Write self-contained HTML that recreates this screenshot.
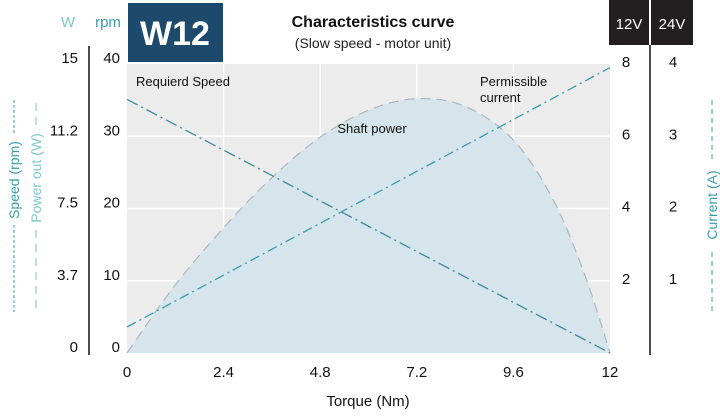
<!DOCTYPE html>
<html><head><meta charset="utf-8"><style>
body{margin:0;background:#fff;width:720px;height:411px;overflow:hidden;font-family:"Liberation Sans",sans-serif}
svg text{font-family:"Liberation Sans",sans-serif}
</style></head><body>
<svg id="c" width="720" height="411" viewBox="0 0 720 411">
<rect x="127" y="64" width="483" height="289" fill="#ececec"/>
<g id="grid"></g>
<path id="powerFill" fill="#d5e5eb"/>
<path id="powerLine" fill="none" stroke="#a9b9be" stroke-width="1.2" stroke-dasharray="10,6"/>
<line id="speedLine" stroke="#3a8a9c" stroke-width="1.3" stroke-dasharray="12,4,2,4"/>
<line id="currentLine" stroke="#3a9cae" stroke-width="1.3" stroke-dasharray="10,4,2,4"/>
<rect x="128" y="3" width="95" height="59" fill="#1d4a6c"/>
<text x="175" y="45" text-anchor="middle" font-size="34" font-weight="bold" fill="#fff">W12</text>
<text x="373" y="27" text-anchor="middle" font-size="16" font-weight="bold" fill="#111">Characteristics curve</text>
<text x="373" y="48" text-anchor="middle" font-size="14" fill="#222">(Slow speed - motor unit)</text>
<text x="68" y="27" text-anchor="middle" font-size="15" fill="#7fc6cf">W</text>
<text x="108" y="27" text-anchor="middle" font-size="15" fill="#3a9cae">rpm</text>
<rect x="609" y="0" width="40" height="45" fill="#231f20"/>
<rect x="651" y="0" width="42" height="45" fill="#231f20"/>
<text x="629" y="29" text-anchor="middle" font-size="15" fill="#fff">12V</text>
<text x="672" y="29" text-anchor="middle" font-size="15" fill="#fff">24V</text>
<line x1="89" y1="46" x2="89" y2="355" stroke="#111" stroke-width="1.5"/>
<line x1="650" y1="45" x2="650" y2="355" stroke="#111" stroke-width="1.5"/>
<g id="ticks"></g>
<text x="136" y="86" font-size="13" fill="#111">Requierd Speed</text>
<text x="480" y="86" font-size="13" fill="#111">Permissible</text>
<text x="480" y="102" font-size="13" fill="#111">current</text>
<text x="372" y="133" text-anchor="middle" font-size="13" fill="#111">Shaft power</text>
<text x="368" y="406" text-anchor="middle" font-size="15" fill="#111">Torque (Nm)</text>
<g transform="translate(19,180) rotate(-90)"><text text-anchor="middle" font-size="14" fill="#3a9cae">Speed (rpm)</text></g>
<line x1="14" y1="100" x2="14" y2="135" stroke="#3a9cae" stroke-dasharray="3,2"/>
<line x1="14" y1="225" x2="14" y2="312" stroke="#3a9cae" stroke-dasharray="3,2"/>
<g transform="translate(41,178) rotate(-90)"><text text-anchor="middle" font-size="14" fill="#7fc6cf">Power out (W)</text></g>
<line x1="36" y1="103" x2="36" y2="126" stroke="#7fc6cf" stroke-dasharray="8,6"/>
<line x1="36" y1="230" x2="36" y2="312" stroke="#7fc6cf" stroke-dasharray="8,6"/>
<g transform="translate(717,205) rotate(-90)"><text text-anchor="middle" font-size="14" fill="#3a9cae">Current (A)</text></g>
<line x1="712" y1="100" x2="712" y2="160" stroke="#3a9cae" stroke-dasharray="5,4"/>
<line x1="712" y1="252" x2="712" y2="312" stroke="#3a9cae" stroke-dasharray="5,4"/>
</svg>
<script>
const torqueTicks=[0,2.4,4.8,7.2,9.6,12];
const rpmTicks=[0,10,20,30,40];
const wattTickLabels=["0","3.7","7.5","11.2","15"];
const amp12Ticks=[2,4,6,8];
const amp24Labels=["1","2","3","4"];
const powerTorque=[0,1.15,2.4,3.6,4.8,6.0,7.2,8.4,9.6,10.6,11.4,12];
const powerWatts=[0,3.4,6.5,9.1,11.2,12.6,13.2,12.8,11.05,7.9,3.9,0];
const speedTorque=[0,12];
const speedRpm=[35.1,0];
const currentTorque=[0,12];
const current12V=[0.72,7.9];

const X0=127,X1=610,Y0=353,Y1=64;
const sx=t=>X0+(t-0)/(12-0)*(X1-X0);
const sRpm=r=>Y0-r/40*(Y0-Y1);
const sW=w=>Y0-w/15*(Y0-Y1);
const sA=a=>Y0-a/8*(Y0-Y1);
const NS="http://www.w3.org/2000/svg";
function mk(tag,attrs,parent){const e=document.createElementNS(NS,tag);for(const k in attrs)e.setAttribute(k,attrs[k]);parent.appendChild(e);return e;}
const grid=document.getElementById('grid'),ticks=document.getElementById('ticks');
torqueTicks.forEach((t,i)=>{
  if(i>0&&i<torqueTicks.length-1){const l=mk('line',{x1:sx(t),x2:sx(t),y1:Y1,y2:Y0,stroke:'#fff','stroke-width':1.5},grid);
  
  }
  const tx=mk('text',{x:sx(t),y:377,'text-anchor':'middle','font-size':15,fill:'#111'},ticks);tx.textContent=t;
  
  
});
rpmTicks.forEach((r,i)=>{
  if(i>0&&i<rpmTicks.length-1){const l=mk('line',{x1:X0,x2:X1,y1:sRpm(r),y2:sRpm(r),stroke:'#fff','stroke-width':1.5},grid);
  
  }
  const y=sRpm(r)-1;
  const a=mk('text',{x:120,y:y,'text-anchor':'end','font-size':15,fill:'#111'},ticks);a.textContent=r;
  
  
  const b=mk('text',{x:78,y:y,'text-anchor':'end','font-size':15,fill:'#111'},ticks);b.textContent=wattTickLabels[i];
  
  
});
amp12Ticks.forEach((a,i)=>{
  const y=sA(a)+3;
  const t1=mk('text',{x:626,y:y,'text-anchor':'middle','font-size':15,fill:'#111'},ticks);t1.textContent=a;
  
  
  const t2=mk('text',{x:673,y:y,'text-anchor':'middle','font-size':15,fill:'#111'},ticks);t2.textContent=amp24Labels[i];
  
  
});
// smooth path through power points (Catmull-Rom)
const pts=powerTorque.map((t,i)=>[sx(t),sW(powerWatts[i])]);
let d='M'+pts[0][0]+','+pts[0][1];
for(let i=0;i<pts.length-1;i++){
  const p0=pts[Math.max(i-1,0)],p1=pts[i],p2=pts[i+1],p3=pts[Math.min(i+2,pts.length-1)];
  const c1=[p1[0]+(p2[0]-p0[0])/6,p1[1]+(p2[1]-p0[1])/6];
  const c2=[p2[0]-(p3[0]-p1[0])/6,p2[1]-(p3[1]-p1[1])/6];
  d+=` C${c1[0]},${c1[1]} ${c2[0]},${c2[1]} ${p2[0]},${p2[1]}`;
}
document.getElementById('powerLine').setAttribute('d',d);
document.getElementById('powerFill').setAttribute('d',d+'Z');
const sp=document.getElementById('speedLine');
sp.setAttribute('x1',sx(speedTorque[0]));sp.setAttribute('y1',sRpm(speedRpm[0]));
sp.setAttribute('x2',sx(speedTorque[1]));sp.setAttribute('y2',sRpm(speedRpm[1]));
const cu=document.getElementById('currentLine');
cu.setAttribute('x1',sx(currentTorque[0]));cu.setAttribute('y1',sA(current12V[0]));
cu.setAttribute('x2',sx(currentTorque[1]));cu.setAttribute('y2',sA(current12V[1]));
</script>
</body></html>
